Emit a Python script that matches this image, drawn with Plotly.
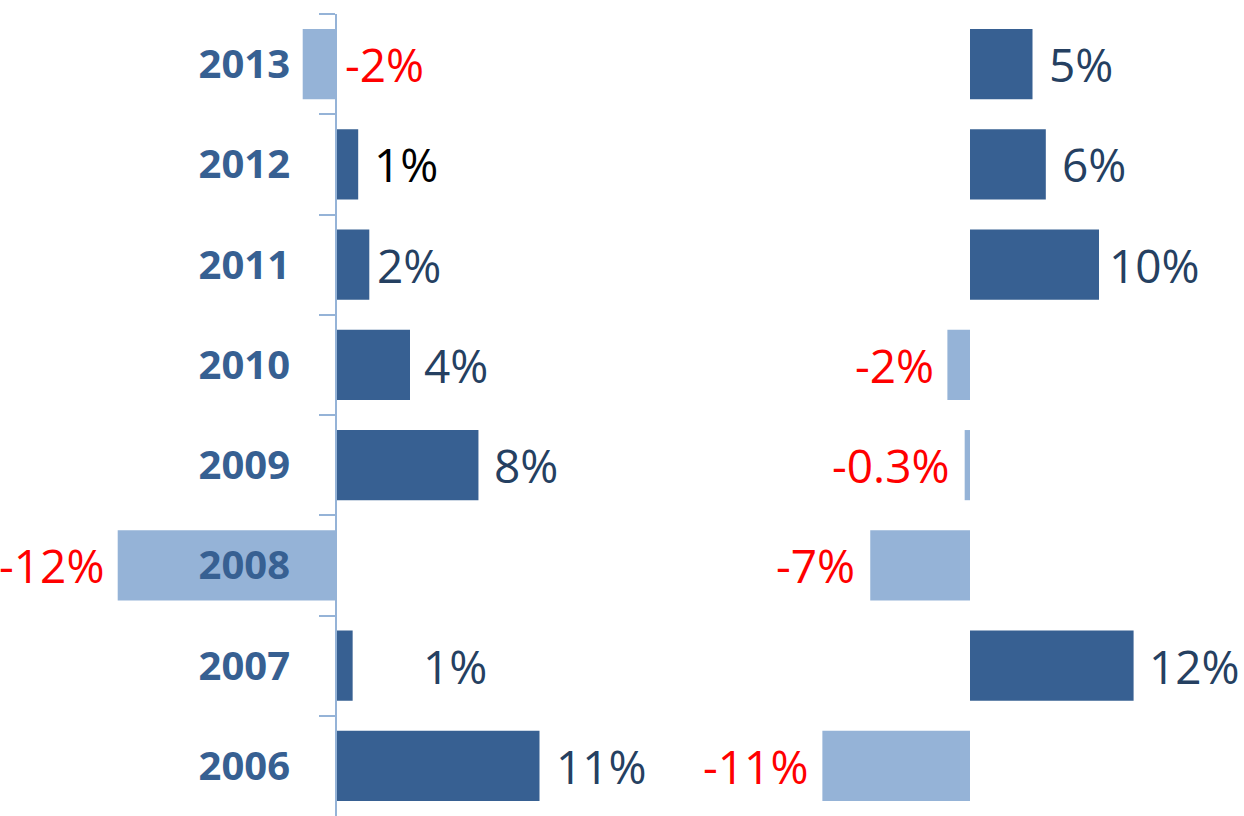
import plotly.graph_objects as go

# 연도 (위에서 아래로)
years = ['2013', '2012', '2011', '2010', '2009', '2008', '2007', '2006']

# 왼쪽 패널: 막대 길이(추정)와 표시 라벨
left_values = [-1.8, 1.2, 1.8, 4.0, 7.7, -11.8, 0.9, 11.0]
left_labels = ['-2%', '1%', '2%', '4%', '8%', '-12%', '1%', '11%']

# 오른쪽 패널
right_values = [4.7, 5.7, 9.7, -1.7, -0.4, -7.5, 12.3, -11.1]
right_labels = ['5%', '6%', '10%', '-2%', '-0.3%', '-7%', '12%', '-11%']

POS = '#376092'
NEG = '#95b3d7'
NAVY = '#254061'
RED = '#ff0000'
FONT = 'Open Sans'

# 라벨 배치 조정 (px)
left_side = ['r', 'r', 'r', 'r', 'r', 'l', 'r', 'r']
left_gap = [40, 14, 6, 12, 14, -12, 68, 14]
left_color = [RED, 'black', NAVY, NAVY, NAVY, RED, NAVY, NAVY]
right_side = ['r', 'r', 'r', 'l', 'l', 'l', 'r', 'l']
right_gap = [14, 14, 8, -11, -13, -13, 13, -12]
right_color = [NAVY, NAVY, NAVY, RED, RED, RED, NAVY, RED]


def colors(vals):
    return [POS if v >= 0 else NEG for v in vals]


fig = go.Figure()
fig.add_trace(go.Bar(y=years, x=left_values, orientation='h', width=0.7,
                     marker=dict(color=colors(left_values), line=dict(width=0)),
                     xaxis='x', yaxis='y', hoverinfo='skip'))
fig.add_trace(go.Bar(y=years, x=right_values, orientation='h', width=0.7,
                     marker=dict(color=colors(right_values), line=dict(width=0)),
                     xaxis='x2', yaxis='y', hoverinfo='skip'))

annotations = []
for xref, vals, labs, side, gap, col in [
        ('x', left_values, left_labels, left_side, left_gap, left_color),
        ('x2', right_values, right_labels, right_side, right_gap, right_color)]:
    for i, (v, t, s, g, c) in enumerate(zip(vals, labs, side, gap, col)):
        annotations.append(dict(
            x=v, y=i, xref=xref, yref='y', text=t, showarrow=False,
            xanchor='left' if s == 'r' else 'right', xshift=g, yshift=0,
            font=dict(family=FONT, size=46, color=c)))

W = 1244
fig.update_layout(
    width=W, height=816,
    margin=dict(l=0, r=0, t=14, b=0),
    paper_bgcolor='white', plot_bgcolor='white',
    showlegend=False, bargap=0.3,
    annotations=annotations,
    xaxis=dict(domain=[0, 0.5], range=[-336 / 18.5, (622 - 336) / 18.5],
               visible=False, fixedrange=True),
    xaxis2=dict(domain=[0.5, 1], range=[-348 / 13.3, (622 - 348) / 13.3],
                visible=False, fixedrange=True, anchor='y'),
    yaxis=dict(type='category', categoryorder='array', categoryarray=years,
               range=[7.5, -0.5], anchor='free', position=336 / W,
               showline=True, linecolor=NEG, linewidth=2,
               ticks='outside', tickson='boundaries', ticklen=16,
               tickcolor=NEG, tickwidth=2, showgrid=False, zeroline=False,
               ticklabelstandoff=37, fixedrange=True,
               tickfont=dict(family=FONT, size=40, color=POS, weight='bold')),
)

fig.write_html('out.html', config={'displayModeBar': False},
               post_script="document.body.style.margin='0px';")
